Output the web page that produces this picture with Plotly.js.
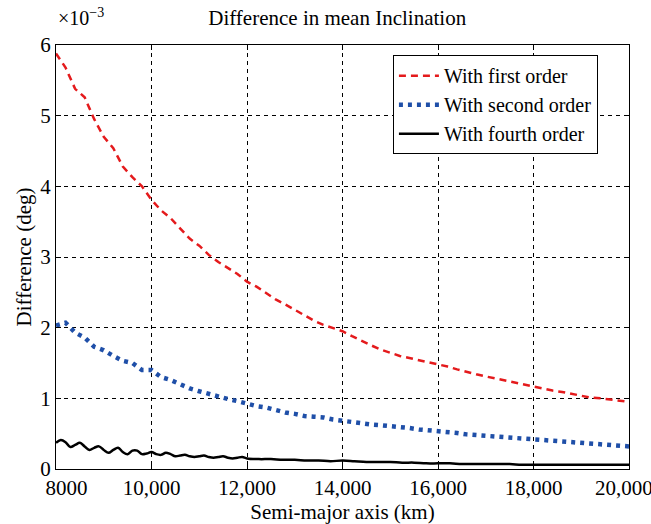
<!DOCTYPE html>
<html>
<head>
<meta charset="utf-8">
<script src="https://cdn.plot.ly/plotly-3.0.1.min.js"></script>
<style>html,body{margin:0;padding:0;background:#fff;}#chart{width:651px;height:524px;}</style>
</head>
<body>
<div id="chart"></div>
<script>
// Semi-major axis (km) for first/second order series
var semiMajorAxis = [8000,8200,8400,8600,8800,9000,9200,9400,9600,9800,
  10000,10200,10400,10600,10800,11000,11200,11400,11600,11800,
  12000,12200,12400,12600,12800,13000,13200,13400,13600,13800,
  14000,14200,14400,14600,14800,15000,15200,15400,15600,15800,
  16000,16200,16400,16600,16800,17000,17200,17400,17600,17800,
  18000,18200,18400,18600,18800,19000,19200,19400,19600,19800,20000];

// Difference (x10^-3 deg)
var firstOrder = [5.88,5.68,5.38,5.26,4.95,4.70,4.54,4.28,4.13,4.00,
  3.81,3.66,3.55,3.41,3.26,3.16,3.03,2.93,2.85,2.76,
  2.65,2.58,2.49,2.40,2.33,2.25,2.17,2.10,2.04,1.99,
  1.95,1.88,1.81,1.75,1.69,1.64,1.60,1.57,1.54,1.51,
  1.49,1.45,1.41,1.37,1.34,1.31,1.28,1.25,1.22,1.20,
  1.17,1.14,1.11,1.09,1.06,1.04,1.01,1.00,0.98,0.96,0.95];

var secondOrder = [2.03,2.07,1.93,1.86,1.73,1.68,1.60,1.53,1.50,1.40,
  1.40,1.30,1.26,1.20,1.14,1.10,1.06,1.03,0.99,0.96,
  0.92,0.89,0.87,0.83,0.80,0.78,0.75,0.74,0.73,0.70,
  0.68,0.66,0.65,0.63,0.62,0.61,0.59,0.58,0.56,0.55,
  0.54,0.52,0.51,0.49,0.48,0.47,0.46,0.45,0.44,0.43,
  0.42,0.41,0.40,0.39,0.38,0.37,0.36,0.35,0.34,0.33,0.32];

var fourthAxis = [8000,8100,8200,8300,8400,8500,8600,8700,8800,8900,
  9000,9100,9200,9300,9400,9500,9600,9700,9800,9900,
  10000,10100,10200,10300,10400,10500,10600,10700,10800,10900,
  11000,11100,11200,11300,11400,11500,11600,11700,11800,11900,
  12000,12250,12500,12750,13000,13250,13500,13750,14000,14250,
  14500,14750,15000,15250,15500,15750,16000,16250,16500,16750,
  17000,17250,17500,17750,18000,18250,18500,18750,19000,19250,
  19500,19750,20000];

var fourthOrder = [0.37,0.41,0.38,0.31,0.34,0.37,0.32,0.27,0.30,0.32,
  0.27,0.23,0.27,0.30,0.24,0.21,0.26,0.26,0.21,0.22,
  0.24,0.21,0.20,0.23,0.21,0.18,0.19,0.20,0.18,0.17,
  0.18,0.19,0.17,0.16,0.17,0.18,0.16,0.15,0.16,0.17,
  0.15,0.14,0.14,0.13,0.13,0.12,0.12,0.11,0.12,0.11,
  0.10,0.10,0.10,0.09,0.09,0.08,0.08,0.08,0.07,0.07,
  0.07,0.07,0.07,0.06,0.06,0.06,0.06,0.06,0.06,0.06,
  0.06,0.06,0.06];

var xTickVals = [8000,10000,12000,14000,16000,18000,20000];
var xTickText = ['\u00a0\u00a0\u00a0\u00a08000','10,000','12,000','14,000','16,000','18,000','20,000\u00a0\u00a0'];
var yTickVals = [0,1,2,3,4,5,6];

var serif = "Liberation Serif";

var traces = [
  {x: semiMajorAxis, y: firstOrder, name: 'With first order', mode: 'lines',
   line: {color: '#e41a1c', width: 2.5, dash: '7px,5px'}},
  {x: semiMajorAxis, y: secondOrder, name: 'With second order', mode: 'lines',
   line: {color: '#1f4fa8', width: 4.5, dash: '4px,5px'}},
  {x: fourthAxis, y: fourthOrder, name: 'With fourth order', mode: 'lines',
   line: {color: '#000000', width: 2.5, shape: 'spline'}}
];

var axisCommon = {
  showline: true, linecolor: '#000', linewidth: 1, mirror: 'ticks',
  ticks: 'inside', ticklen: 5, tickcolor: '#000',
  showgrid: true, gridcolor: '#000', gridwidth: 1, griddash: '4px,4px',
  zeroline: false, ticklabeloverflow: 'allow',
  tickfont: {family: serif, size: 21, color: '#000'}
};

var layout = {
  width: 651, height: 524,
  margin: {l: 56, r: 22, t: 45, b: 55},
  paper_bgcolor: '#ffffff', plot_bgcolor: '#ffffff',
  font: {family: serif, color: '#000'},
  title: {text: 'Difference in mean Inclination', font: {family: serif, size: 21, color: '#000'},
          x: 0.518, xanchor: 'center', y: 0.966, yanchor: 'middle'},
  xaxis: Object.assign({}, axisCommon, {
    range: [8000, 20000], tickvals: xTickVals, ticktext: xTickText,
    title: {text: 'Semi-major axis (km)', font: {family: serif, size: 21, color: '#000'}, standoff: 0}
  }),
  yaxis: Object.assign({}, axisCommon, {
    range: [0, 6], tickvals: yTickVals,
    title: {text: 'Difference (deg)', font: {family: serif, size: 21, color: '#000'}, standoff: 2}
  }),
  legend: {
    x: 0.588, y: 0.976, xanchor: 'left', yanchor: 'top',
    bgcolor: '#ffffff', bordercolor: '#000', borderwidth: 1,
    font: {family: serif, size: 20, color: '#000'}, tracegroupgap: 0,
    itemwidth: 40
  },
  annotations: [{
    text: '×10<sup>−3</sup>', xref: 'paper', yref: 'paper', x: 0, y: 1,
    xanchor: 'left', yanchor: 'bottom', yshift: 14, showarrow: false,
    font: {family: serif, size: 20, color: '#000'}
  }]
};

Plotly.newPlot('chart', traces, layout, {displayModeBar: false, staticPlot: true});
</script>
</body>
</html>
